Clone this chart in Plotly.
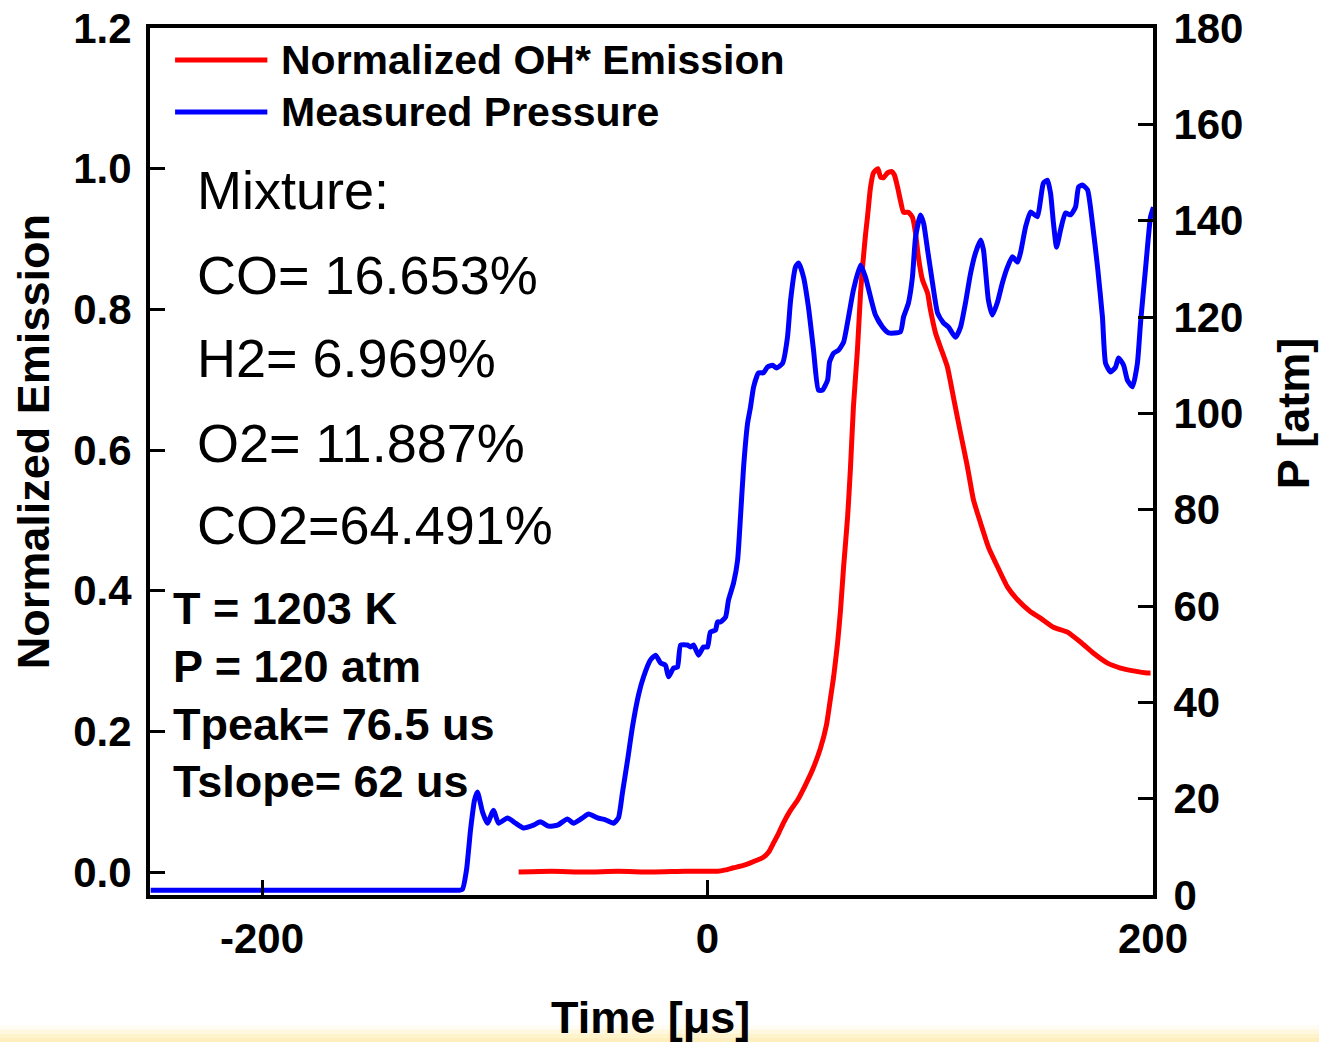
import plotly.graph_objects as go

# ---- Measured pressure trace (time in microseconds, pressure in atm) ----
p_time = [-250.0, -220.0, -190.0, -160.0, -130.0, -115.0, -111.5, -110.0, -108.2, -106.4,
          -104.6, -103.3, -101.0, -98.8, -96.1, -93.8,
          -89.8, -86.2, -82.6, -78.1, -75.0, -71.4, -67.3, -62.9, -60.2, -56.1,
          -53.4, -49.4, -45.8, -42.2, -40.0, -38.2, -35.9, -33.7, -31.0, -28.7,
          -25.6, -23.3, -21.1, -18.9, -17.5, -15.3, -13.5, -12.1, -9.0, -7.6,
          -6.3, -4.0, -1.8, 0.0, 1.3, 3.6, 4.5, 5.8, 8.1, 9.4,
          11.7, 13.5, 14.8, 16.2, 18.0, 19.3, 20.7, 22.9, 25.1, 26.9,
          29.2, 31.0, 33.7, 35.9, 37.3, 39.5, 40.9, 43.1, 45.3, 47.6,
          49.8, 51.6, 53.9, 54.8, 56.6, 58.8, 61.1, 63.3, 65.5, 68.7,
          70.9, 73.2, 75.4, 78.6, 81.3, 86.6, 88.0, 90.2, 92.0, 93.4,
          95.6, 97.0, 98.8, 101.0, 103.3, 105.9, 108.2, 111.3, 113.6, 115.8,
          118.1, 120.3, 122.6, 123.9, 126.1, 127.9, 130.2, 132.4, 134.7, 136.9,
          139.2, 140.5, 142.8, 145.0, 148.1, 149.5, 150.8, 152.6, 154.0, 155.3,
          156.7, 158.5, 160.7, 163.0, 165.2, 166.6, 168.3, 170.6, 172.8, 175.1,
          177.3, 178.7, 180.9, 183.2, 184.5, 186.8, 188.5, 190.8, 193.0, 194.4,
          196.6, 198.9, 200.2]
p_atm = [1.0, 1.0, 1.0, 1.0, 1.0, 1.0, 1.0, 1.2, 5.2, 13.5,
         19.7, 21.4, 17.2, 14.9, 17.6, 14.9,
         16.0, 14.9, 13.9, 14.5, 15.2, 14.3, 14.5, 15.8, 14.9, 16.0,
         16.8, 16.0, 15.6, 14.9, 16.0, 21.2, 28.0, 34.9, 41.5, 45.3,
         48.8, 49.8, 48.2, 47.7, 45.3, 47.1, 47.3, 51.9, 51.9, 51.5,
         51.9, 49.8, 51.5, 51.5, 54.6, 55.0, 56.7, 56.7, 57.7, 61.2,
         64.8, 69.5, 78.5, 88.9, 98.0, 101.3, 105.5, 108.4, 108.4, 109.6,
         110.0, 109.4, 110.4, 115.8, 123.5, 130.4, 131.2, 128.3, 122.1, 113.1,
         104.8, 104.8, 106.9, 110.7, 112.5, 113.1, 114.8, 120.0, 125.6, 130.8,
         128.3, 124.1, 120.4, 117.9, 116.7, 116.9, 120.0, 122.9, 128.3, 136.6,
         141.2, 139.5, 133.9, 127.1, 120.8, 118.8, 117.9, 115.8, 117.9, 122.9,
         129.1, 133.3, 136.0, 133.9, 123.5, 120.4, 123.1, 127.1, 130.4, 132.5,
         131.4, 133.3, 138.7, 141.8, 140.8, 144.3, 147.8, 148.4, 145.7, 139.5,
         134.5, 138.1, 141.6, 141.2, 142.8, 147.0, 147.4, 146.4, 139.5, 130.4,
         120.0, 110.4, 108.6, 109.6, 111.5, 110.0, 106.9, 105.5, 110.4, 118.8,
         129.8, 140.8, 142.8]

# ---- Normalized OH* emission trace ----
oh_time = [-84.8, -70.0, -55.0, -40.0, -25.0, -10.0, 0.0, 4.5, 8.1, 11.7,
           15.7, 19.3, 22.4, 25.1, 27.4, 29.6, 31.9, 34.1, 37.3, 40.4,
           44.0, 47.1, 50.7, 53.4, 55.2, 56.6, 58.4, 59.7, 61.1, 62.9,
           64.2, 65.5, 67.3, 68.7, 69.6, 70.9, 71.8, 73.2, 74.5, 76.5,
           77.7, 79.0, 80.8, 82.6, 83.9, 85.3, 86.6, 88.0, 90.2, 92.0,
           93.4, 94.7, 96.5, 98.8, 100.1, 102.4, 104.6, 107.7, 110.4, 113.6,
           116.7, 119.4, 122.6, 126.1, 130.2, 134.7, 139.2, 145.0, 149.5, 155.3,
           161.6, 167.4, 173.3, 179.6, 185.4, 191.2, 197.5, 198.9]
oh_norm = [0.000, 0.001, 0.000, 0.001, 0.000, 0.001, 0.001, 0.001, 0.003, 0.006,
           0.009, 0.013, 0.017, 0.021, 0.028, 0.041, 0.055, 0.070, 0.088, 0.102,
           0.124, 0.145, 0.176, 0.209, 0.247, 0.277, 0.326, 0.372, 0.434, 0.505,
           0.576, 0.661, 0.742, 0.823, 0.860, 0.905, 0.931, 0.974, 0.994, 1.000,
           0.988, 0.987, 0.994, 0.996, 0.991, 0.974, 0.955, 0.938, 0.938, 0.931,
           0.908, 0.874, 0.842, 0.823, 0.799, 0.766, 0.746, 0.718, 0.675, 0.624,
           0.576, 0.529, 0.496, 0.462, 0.434, 0.405, 0.387, 0.370, 0.361, 0.348,
           0.341, 0.327, 0.311, 0.297, 0.290, 0.286, 0.283, 0.283]

# ---- Axis ticks ----
x_ticks = [-200, 0, 200]
x_tick_text = ["-200", "0", "200"]
y_ticks = [0.0, 0.2, 0.4, 0.6, 0.8, 1.0, 1.2]
y2_ticks = [0, 20, 40, 60, 80, 100, 120, 140, 160, 180]

# ---- Text content ----
legend_names = ["Normalized OH* Emission", "Measured Pressure"]
mixture_lines = ["Mixture:", "CO= 16.653%", "H2= 6.969%", "O2= 11.887%", "CO2=64.491%"]
condition_lines = ["T = 1203 K", "P = 120 atm", "Tpeak= 76.5 us", "Tslope= 62 us"]

RED = "#FF0000"
BLUE = "#0000FF"
FONT = "Liberation Sans, Arial, sans-serif"

fig = go.Figure()
fig.add_trace(go.Scatter(x=oh_time, y=oh_norm, mode="lines", name=legend_names[0],
                         line=dict(color=RED, width=5, shape="spline", smoothing=0.5),
                         yaxis="y", showlegend=False))
fig.add_trace(go.Scatter(x=p_time, y=p_atm, mode="lines", name=legend_names[1],
                         line=dict(color=BLUE, width=5, shape="spline", smoothing=0.5),
                         yaxis="y2", showlegend=False))

tick_font = dict(family=FONT, size=42, color="black", weight="bold")
title_font = dict(family=FONT, size=45, color="black", weight="bold")

fig.update_layout(
    width=1319, height=1042,
    margin=dict(l=150, r=166, t=28, b=147),
    paper_bgcolor="white", plot_bgcolor="white",
    xaxis=dict(range=[-250.3, 200], tickvals=x_ticks, ticktext=x_tick_text,
               ticks="inside", ticklen=15, tickwidth=3, tickcolor="black",
               showline=True, linewidth=4, linecolor="black", mirror=True,
               showgrid=False, zeroline=False, automargin=False,
               tickfont=tick_font, ticklabelstandoff=4),
    yaxis=dict(range=[-0.0327, 1.2], tickvals=y_ticks, tickformat=".1f",
               ticks="inside", ticklen=15, tickwidth=3, tickcolor="black",
               showline=True, linewidth=4, linecolor="black", mirror=True,
               showgrid=False, zeroline=False, automargin=False,
               tickfont=tick_font, ticklabelstandoff=6),
    yaxis2=dict(range=[0, 180], tickvals=y2_ticks, overlaying="y", side="right",
                ticks="inside", ticklen=15, tickwidth=3, tickcolor="black",
                showline=True, linewidth=4, linecolor="black", showgrid=False,
                zeroline=False, automargin=False, tickfont=tick_font,
                ticklabelstandoff=8),
)

# Axis titles
fig.add_annotation(text="Time [μs]", xref="paper", yref="paper", x=0.499, y=-0.141,
                   xanchor="center", yanchor="middle", showarrow=False, font=title_font)
fig.add_annotation(text="Normalized Emission", xref="paper", yref="paper", x=-0.116,
                   y=0.523, xanchor="center", yanchor="middle", textangle=-90,
                   showarrow=False, font=title_font)
fig.add_annotation(text="P [atm]", xref="paper", yref="paper", x=1.141, y=0.556,
                   xanchor="center", yanchor="middle", textangle=-90,
                   showarrow=False, font=title_font)

# Legend drawn as sample lines with labels in the upper-left corner
legend_y = [0.963, 0.903]
for name, color, ly in zip(legend_names, [RED, BLUE], legend_y):
    fig.add_shape(type="line", xref="paper", yref="paper", x0=0.025, x1=0.117,
                  y0=ly, y1=ly, line=dict(color=color, width=5))
    fig.add_annotation(text=name, xref="paper", yref="paper", x=0.129, y=ly,
                       xanchor="left", yanchor="middle", showarrow=False,
                       font=dict(family=FONT, size=41, color="black", weight="bold"))

# Mixture composition block
mix_y = [0.813, 0.715, 0.619, 0.521, 0.427]
for line, my in zip(mixture_lines, mix_y):
    fig.add_annotation(text=line, xref="paper", yref="paper", x=0.045, y=my,
                       xanchor="left", yanchor="middle", showarrow=False,
                       font=dict(family=FONT, size=54, color="black"))

# Test conditions block
cond_y = [0.331, 0.264, 0.197, 0.131]
for line, cy in zip(condition_lines, cond_y):
    fig.add_annotation(text=line, xref="paper", yref="paper", x=0.021, y=cy,
                       xanchor="left", yanchor="middle", showarrow=False,
                       font=dict(family=FONT, size=45, color="black", weight="bold"))

# Pale yellow band along the bottom edge of the page
band = [("#FFFDF3", -0.150, -0.155), ("#FFF8DE", -0.155, -0.160),
        ("#FFF3CC", -0.160, -0.165), ("#FFEFBE", -0.165, -0.172)]
for col, y0, y1 in band:
    fig.add_shape(type="rect", xref="paper", yref="paper", x0=-0.2, x1=1.2,
                  y0=y0, y1=y1, fillcolor=col, line=dict(width=0), layer="below")

fig.write_html("out.html")
